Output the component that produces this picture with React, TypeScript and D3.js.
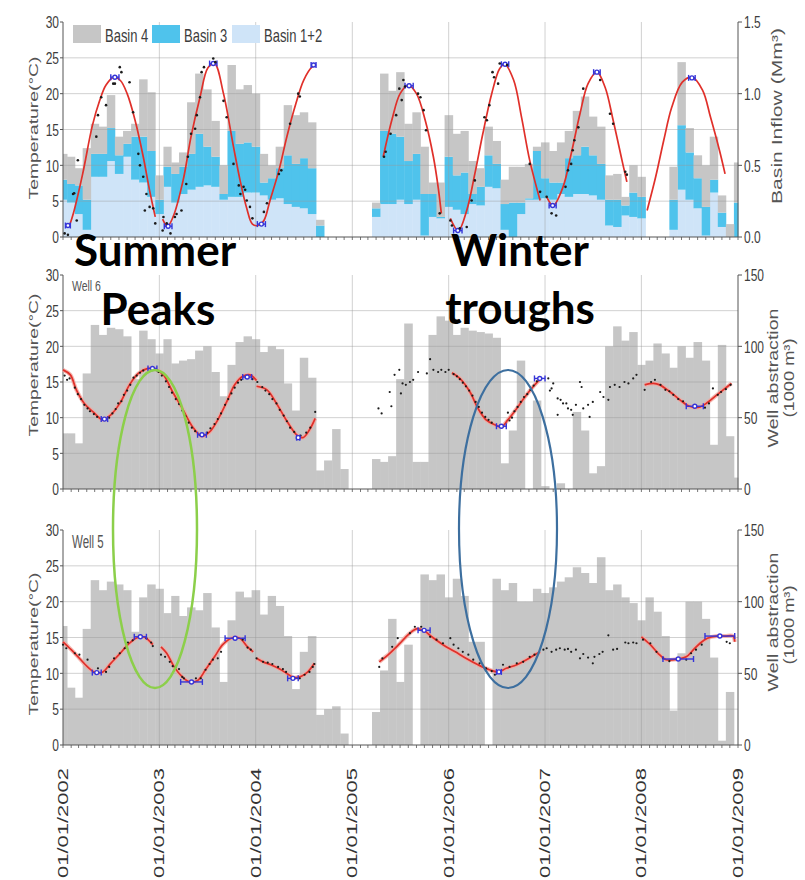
import React from "react";
import * as d3 from "d3";

// ---------- DATA ----------
const yearLabels = ["01/01/2002", "01/01/2003", "01/01/2004", "01/01/2005", "01/01/2006", "01/01/2007", "01/01/2008", "01/01/2009"];
const tempTicks = [0, 5, 10, 15, 20, 25, 30];
const inflowTicks = [0, 0.5, 1.0, 1.5];
const abstractionTicks = [0, 50, 100, 150];
const legendLabels = ["Basin 4", "Basin 3", "Basin 1+2"];
const wellNames = ["Well 6", "Well 5"];

// Monthly basin inflow (Mm3), Jan 2002 .. Jan 2009
const basin12 = [
  .26, .24, .16, .05, .42, .42, .53, .44, .56, .40, .38, .28,
  .16, .35, .24, .30, .33, .35, .36, .35, .26, .28, .28, .31,
  .31, .29, .26, .27, .23, .21, .20, .16, 0, 0, 0, 0,
  0, 0, 0, .14, .23, .23, .26, .23, .26, .01, .14, .13,
  .21, .19, .16, .23, .22, .35, .34, .05, 0, .16, .26, .26,
  .27, .26, .30, .28, .30, .30, .29, .26, .08, .07, .15, .14,
  .13, 0, 0, 0, .05, .33, .26, .20, .01, .31, .07, 0,
  0,
];
const basin3 = [
  .14, .13, .20, .21, .16, .16, .23, .13, .09, .30, .32, .32,
  .10, .14, .20, .19, .25, .37, .27, .21, .04, .46, .37, .35,
  .32, .09, .15, .21, .34, .30, .35, .32, .08, 0, 0, 0,
  0, 0, 0, .06, .51, .49, .44, .30, .32, .29, .16, .01,
  .35, .24, .29, .07, .13, .22, .17, .18, .24, .08, .01, .34,
  .14, .12, .08, .27, .27, .33, .28, .25, .18, .19, .07, .17,
  .15, 0, 0, 0, .21, .45, .33, .21, .20, .09, .10, 0,
  .24,
];
const basin4 = [
  .18, .19, .12, .36, .21, .19, .23, .13, .09, .09, .40, .41,
  .17, .14, .08, .10, .36, .42, .40, .25, .20, .46, .38, .40,
  .37, .20, .09, .15, .35, .34, .32, .32, .04, 0, 0, 0,
  0, 0, 0, .04, .40, .30, .45, .26, .29, .33, .08, .24,
  .29, .29, .29, .23, .13, .20, .16, .17, .25, .25, .24, .03,
  .25, .22, .28, .19, .31, .35, .27, .26, .17, .18, .06, .19,
  .14, 0, 0, 0, .23, .44, .17, .16, .29, .30, .12, .09,
  .28,
];

// Monthly well abstraction (1000 m3)
const well6Abstraction = [
  39, 39, 32, 81, 115, 108, 113, 112, 107, 77, 111, 105,
  95, 105, 88, 90, 91, 97, 100, 82, 65, 87, 103, 107,
  105, 96, 100, 98, 74, 55, 92, 78, 13, 20, 42, 14,
  0, 0, 0, 21, 19, 23, 77, 116, 19, 19, 108, 121,
  118, 108, 113, 111, 110, 109, 106, 18, 41, 90, 0, 62,
  2, 0, 4, 0, 54, 41, 11, 16, 100, 114, 104, 110,
  87, 90, 102, 95, 85, 100, 92, 103, 90, 31, 101, 37,
  8,
];
const well5Abstraction = [
  83, 40, 33, 81, 115, 108, 114, 112, 108, 79, 103, 112,
  109, 92, 104, 90, 96, 94, 106, 82, 44, 87, 107, 103,
  108, 91, 104, 97, 76, 39, 65, 76, 21, 25, 27, 8,
  0, 0, 0, 23, 52, 88, 44, 70, 0, 119, 115, 119,
  103, 116, 104, 72, 72, 0, 116, 108, 113, 100, 100, 109,
  106, 110, 114, 117, 124, 120, 113, 131, 108, 112, 103, 99,
  87, 103, 93, 76, 24, 64, 100, 100, 88, 61, 3, 37,
  0,
];

// Fitted temperature curves: [month index from Jan 2002, °C]
const basinFits: [number, number][][] = [
  [[0.8, 1.6], [1.3, 3.3], [2.5, 8.8], [3.7, 15.5], [4.6, 19], [5.4, 21.2], [6.4, 22.3], [7.2, 21.8], [8, 20], [9, 16.3], [10, 11.2], [10.8, 6.5], [11.5, 2.8]],
  [[12.4, 2.5], [13, 1.5], [13.75, 2.8], [15, 7.9], [16, 14], [17.1, 19.5], [18.1, 23.6], [18.9, 24.2], [20, 20], [21.25, 12.6], [22.1, 7.7], [22.9, 4], [23.6, 1.8], [24.3, 1.6], [25, 2.3], [25.8, 5.1], [26.9, 9.3], [27.9, 14], [29, 18.6], [30, 21.9], [31, 23.7], [31.4, 23.9]],
  [[39.9, 11.2], [41, 16.5], [42, 20], [43, 21.2], [44, 20], [45.1, 16.3], [46.1, 11.2], [46.7, 7], [47.1, 3.3]],
  [[48.2, 2.6], [49.2, 0.9], [50.3, 3.7], [51.3, 8.8], [52.3, 14.4], [53.4, 20], [54.4, 23.5], [55, 24.1], [56.1, 21.9], [57.1, 16.7], [58.1, 10.7], [59.4, 5.1]],
  [[60.2, 5.6], [61, 4.4], [62.3, 7], [63.3, 11.6], [64.4, 17.2], [65.4, 21.4], [66.5, 23], [67.5, 20.9], [68.5, 16.3], [69.6, 10.7], [70.2, 7.7]],
  [[72.7, 3.7], [73.8, 8.4], [74.8, 13.5], [75.8, 18.1], [77.1, 21.6], [78.3, 22.3], [79.6, 20.5], [80.6, 16.7], [81.7, 12.1], [82.4, 8.8]],
];
const well6Fits: [number, number][][] = [
  [[0, 16.7], [0.9, 16], [1.7, 13.9], [2.7, 12], [3.8, 10.8], [5, 9.7], [6, 10.4], [7.1, 12], [8.3, 14.6], [9.4, 16.2], [10.6, 16.9], [11.5, 16.8], [12.5, 16], [13.7, 13.6], [15, 11.1], [16.2, 8.7], [17.3, 7.4], [18.3, 8], [19.3, 9.7], [20.4, 12.2], [21.4, 14.6], [22.4, 15.8], [23.3, 16], [24.1, 15.2]],
  [[24.1, 14.4], [25.4, 13.9], [26.6, 12], [27.8, 9.7], [29.1, 7.6], [29.9, 7.2], [30.7, 8.3], [31.4, 9.9]],
  [[48.4, 16.3], [49.4, 15.5], [50.7, 13.6], [51.7, 11.3], [52.7, 9.7], [53.8, 9.0], [54.6, 8.7], [55.4, 9.7], [56.5, 11.3], [57.5, 12.9], [58.5, 14.3], [59.3, 15.3]],
  [[72.4, 14.6], [73.5, 14.8], [74.3, 14.6], [75.6, 13.6], [76.8, 12.5], [78, 11.6], [79.3, 11.5], [80.3, 12.2], [81.4, 13.2], [82.4, 14.1], [83.2, 14.8]],
];
const well5Fits: [number, number][][] = [
  [[0, 14.4], [1, 13.3], [2.1, 12.1], [3.1, 10.9], [4.1, 10.1], [5, 10.2], [6, 11.4], [7, 12.6], [8.1, 14], [9.1, 14.9], [10, 15.1], [10.6, 14.7], [11.2, 14]],
  [[12.2, 13.7], [12.9, 12.8], [13.9, 10.9], [14.9, 9.5], [15.8, 8.8], [16.8, 9], [17.8, 10.5], [18.9, 12.3], [19.9, 14], [21, 14.9], [22, 14.9], [23, 13.7], [23.7, 13]],
  [[24.1, 12.1], [24.9, 11.6], [25.9, 11.2], [27, 10.6], [28, 9.9], [28.8, 9.4], [29.7, 9.6], [30.5, 10.2], [31.3, 11.4]],
  [[39.4, 11.6], [40.7, 12.8], [41.9, 14.1], [43, 15.4], [44, 16.2], [44.9, 16], [45.9, 15.1], [47.3, 14], [48.8, 13], [50.2, 12.1], [51.7, 11.2], [53.1, 10.5], [54.2, 10.2], [55.2, 10.7], [56.5, 11.2], [57.7, 11.9], [58.9, 12.7], [59.4, 13]],
  [[72, 15.1], [73.1, 14], [74.1, 12.8], [75.1, 11.9], [76.6, 12], [77.6, 12.3], [78.5, 13.3], [79.3, 14.2], [80.2, 14.9], [81.4, 15.2], [82.4, 15.2], [83.4, 15.2], [83.6, 14.4]],
];

// Peak / trough markers: [start month, end month, °C]
const basinMarkers: [number, number, number][] = [[0.3, 0.9, 1.6], [6.0, 7.0, 22.3], [12.6, 13.6, 1.5], [18.3, 19.2, 24.2], [24.2, 25.2, 1.8], [30.9, 31.5, 24], [42.6, 43.6, 21.1], [48.6, 49.7, 0.9], [54.6, 55.5, 24.1], [60.5, 61.4, 4.4], [66.1, 66.9, 23], [77.9, 78.7, 22.2]];
const well6Markers: [number, number, number][] = [[4.8, 5.6, 9.8], [10.6, 11.7, 16.9], [16.8, 17.9, 7.6], [22.4, 23.5, 15.7], [29.1, 29.5, 7.2], [54, 55.2, 8.8], [58.7, 60, 15.5], [77.6, 79.7, 11.6]];
const well5Markers: [number, number, number][] = [[3.7, 4.8, 10.1], [8.9, 10.4, 15.1], [14.7, 17.4, 8.8], [20.2, 22.7, 14.9], [28, 29.3, 9.3], [44.2, 45.7, 16], [54, 54.6, 10.2], [74.7, 78.5, 12], [79.9, 83.6, 15.2]];

// Observed temperatures: [month, °C]
const basinObs: [number, number][] = [[0.2, 0.5], [0.6, 0.3], [1.25, 6], [1.4, 6.1], [1.75, 2.3], [1.9, 10.7], [4.2, 14], [4.4, 17], [4.8, 19.5], [5.4, 18.4], [6.3, 21.4], [6.5, 21.4], [7.1, 23.7], [7.3, 23], [8.3, 21.6], [8.75, 17.4], [9.4, 11.6], [9.6, 10], [10, 8.4], [10.2, 3.7], [10.4, 6], [10.8, 4.2], [11.25, 4], [11.5, 1.9],
  [12.4, 0.9], [12.5, 2.8], [12.9, 1.9], [13.4, 0.5], [14, 2.8], [14.2, 3.2], [14.8, 3.7], [15.4, 7.4], [15.6, 11.2], [16, 14.4], [16.5, 15.1], [16.7, 17], [17.1, 19.5], [17.3, 23], [17.6, 23.7], [18.75, 24.9], [19, 24.4], [20, 19], [20.4, 16.7], [21.25, 10.2], [21.9, 7.2], [22.1, 6], [22.5, 7], [22.7, 6.6], [22.9, 5.1], [23.3, 4.2], [23.6, 2.6],
  [25, 3.5], [25.4, 4.7], [26.9, 8.8], [27.2, 9.3], [28.3, 15.8], [29.3, 20], [29.5, 19.6],
  [40, 11.2], [40.2, 11.9], [40.8, 14.4], [41.5, 17], [41.9, 20.7], [42.2, 19.1], [42.4, 21.9], [42.6, 21], [44.2, 20], [44.5, 19.5], [44.9, 17.7], [45.2, 14.9], [46.9, 3.3], [48.2, 2.3], [48.4, 1.6], [49.4, 1.2], [50.3, 1.4], [50.9, 5.1], [51.3, 7.9], [52.5, 16.7], [52.8, 16.3], [53.1, 18.4], [53.5, 23], [53.7, 22.3], [54.2, 21.4], [54.4, 24.2], [55.3, 24], [58.1, 10.2], [59.4, 6.3], [60.2, 5.6], [60.8, 3.3], [61.4, 3], [62.6, 7], [62.9, 9.3], [63.3, 10.2], [63.5, 12.1], [63.7, 13.5], [64.2, 15.3], [64.8, 20.7], [66.9, 21.9], [68.1, 17.2], [68.5, 15.8], [70, 9.1], [70.2, 8.7]];
const well6Obs: [number, number][] = [[0.2, 15.9], [0.5, 15.3], [0.8, 15.5], [1.5, 14.2], [1.9, 13.3], [2.3, 12.6], [2.7, 11.8], [3.1, 11.3], [3.4, 10.9], [3.9, 10.5], [4.3, 10.1], [5.3, 9.7], [5.8, 10.0], [6.2, 10.6], [6.6, 11.2], [6.9, 12.0], [7.3, 12.3], [7.6, 13.2], [8.0, 13.8], [8.4, 14.6], [8.8, 15.6], [9.2, 15.9], [9.6, 16.3], [10.0, 16.6], [11.9, 16.4], [12.3, 15.9], [12.8, 15.1], [13.2, 14.3], [13.6, 13.5], [14.1, 12.6], [14.5, 11.9], [14.9, 11.0], [15.3, 10.2], [15.7, 9.3], [16.1, 8.6], [16.5, 8.1], [17.1, 7.6], [18.0, 7.9], [18.4, 8.5], [18.9, 9.1], [19.3, 9.8], [19.7, 10.6], [20.2, 11.8], [20.6, 12.6], [21.0, 13.4], [21.4, 14.2], [21.8, 14.9], [22.2, 15.3], [23.6, 15.4], [24.2, 15.0], [24.8, 14.3], [25.2, 13.8], [25.7, 13.3], [26.1, 12.6], [26.6, 12.0], [27.0, 11.1], [27.5, 10.3], [27.9, 9.5], [28.3, 8.6], [28.8, 8.0], [29.6, 7.5], [30.3, 7.9], [30.8, 8.6], [31.4, 10.8],
  [39.3, 11.3], [39.7, 10.6], [40.7, 13.6], [40.9, 11.6], [41.3, 16], [41.9, 16.7], [42.1, 13.4], [42.3, 14.8], [42.7, 14.6], [43.2, 15], [43.6, 15.3], [44.2, 16.4], [45.3, 16.2], [45.7, 18.2], [46.1, 16.7], [46.7, 16.4], [47.1, 16.7], [47.6, 16.4], [48.0, 16.7],
  [48.6, 16.1], [49.0, 15.8], [49.4, 15.4], [49.8, 14.9], [50.2, 14.4], [50.6, 13.8], [51.0, 13.1], [51.4, 12.2], [51.8, 11.5], [52.2, 10.7], [52.6, 10.1], [53.0, 9.7], [53.4, 9.3], [55.4, 10.7], [55.6, 9.6], [55.9, 10.0], [56.2, 10.9], [56.6, 11.5], [57.0, 12.2], [57.4, 12.9], [57.8, 13.3], [58.2, 13.9], [58.6, 14.5], [59.0, 15.1],
  [60.4, 15.5], [60.6, 13.8], [60.8, 14.1], [61.0, 14.8], [61.6, 12.7], [61.6, 10.4], [62.0, 12.5], [62.3, 12.0], [62.7, 12.0], [62.9, 11.3], [63.3, 11.1], [63.5, 10.4], [63.9, 11.8], [64.4, 15.0], [64.6, 14.3], [64.8, 11.3], [65.4, 11.8], [65.6, 10.1], [66.0, 12.2], [66.9, 13.6], [67.3, 12.9], [67.9, 12.5], [68.1, 14.3], [68.7, 14.6], [69.3, 14.3], [69.9, 15.0], [70.4, 14.8], [71.0, 15.5], [71.4, 16.0],
  [72.4, 13.9], [73.2, 15.0], [73.7, 15.3], [74.4, 14.6], [75.0, 13.9], [75.5, 13.7], [76.0, 13.2], [76.6, 12.6], [77.2, 12.3], [79.9, 11.4], [80.4, 12.0], [80.9, 14.1], [81.5, 13.2], [81.9, 13.6], [82.5, 14.0], [83.1, 14.6]];
const well5Obs: [number, number][] = [[0, 14], [0.4, 13.5], [1.5, 12.8], [2.1, 12.6], [3.1, 11.9], [4.4, 10.7], [5.4, 10.2], [5.8, 10.9], [6.4, 12.1], [7.1, 12.8], [7.7, 13.5], [8.1, 14.3], [8.7, 14.6], [9.5, 15.2], [10.4, 14.9], [11, 14.3], [11.2, 13.8],
  [12.2, 12.6], [12.7, 12.3], [13.3, 11.6], [13.7, 11], [14.1, 10.9], [14.5, 10.6], [14.9, 9.5], [15.1, 9.3], [16.6, 9.3], [17.2, 9.3], [17.8, 10.5], [18.3, 11.3], [18.7, 11.9], [19.3, 12.1], [19.7, 13], [22.4, 14.7], [23, 13.6], [23.4, 13.3],
  [24.1, 12.1], [24.9, 11.6], [25.5, 11.5], [26.1, 11.3], [26.8, 10.9], [27.4, 10.6], [27.8, 10.2], [29.5, 9.3], [30.1, 9.8], [30.7, 10.2], [31.1, 10.9], [31.3, 11.3],
  [39.4, 10.9], [39.8, 12.1], [41, 13.7], [41.7, 14.9], [43.2, 15.6], [43.8, 16.5], [44.6, 16.5], [45.7, 15.1], [46.5, 14.7], [47.3, 14.2], [48.2, 14.9], [48.6, 14], [49.2, 13.5], [49.8, 13], [50.5, 12.6], [51.1, 11.9], [51.9, 11.4], [52.7, 10.7], [53.4, 10.3], [53.8, 9.8], [54.8, 11.2], [55.6, 10.9], [56.5, 11.4], [57.3, 11.6], [58.1, 12.3], [58.7, 12.6],
  [59.8, 13.3], [60.2, 13.5], [60.8, 13.0], [61.4, 13.3], [61.9, 13.5], [62.5, 13.3], [62.9, 13.4], [63.3, 13.0], [63.9, 13.3], [64.4, 12.1], [64.8, 12.7], [65.4, 12.2], [66, 11.4], [66.2, 12.3], [66.8, 12.7], [67.2, 13.0], [67.9, 15.3], [68.5, 13.3], [69, 13.4], [70, 14.3], [70.4, 14.2], [71, 14.3], [71.4, 14.2],
  [72.2, 14.7], [73.1, 14.2], [73.9, 13], [74.7, 12.1], [75.5, 11.7], [77.6, 11.9], [78.2, 12.8], [78.8, 13.3], [79.5, 14], [82.6, 14.4], [83, 14.2]];

// ---------- LAYOUT ----------
const W = 805, H = 880;
const X0 = 63, X1 = 738;
const panels = [
  { top: 22, bottom: 237 },
  { top: 275, bottom: 489 },
  { top: 530, bottom: 745 },
];
const FONT = "'Liberation Sans', Arial, sans-serif";
const TXT = "#3d3d3d";

const x = d3.scaleTime().domain([new Date(2002, 0, 1), new Date(2009, 0, 1)]).range([X0, X1]);
function monthDate(m: number): Date {
  const i = Math.floor(m);
  const a = new Date(2002, i, 1).getTime();
  const b = new Date(2002, i + 1, 1).getTime();
  return new Date(a + (m - i) * (b - a));
}
const xm = (m: number) => x(monthDate(m));
const clampX = (v: number) => Math.max(X0, Math.min(X1, v));

function SText({ x: tx, y: ty, sy = 1.45, size = 12, anchor = "start", fill = TXT, children }: any) {
  return (
    <text transform={`translate(${tx},${ty}) scale(1,${sy})`} fontSize={size} textAnchor={anchor} fill={fill} fontFamily={FONT}>
      {children}
    </text>
  );
}
function VText({ x: tx, y: ty, len, size = 13, anchor = "middle", fill = "#555", children }: any) {
  return (
    <text transform={`translate(${tx},${ty}) rotate(-90)`} fontSize={size} textAnchor={anchor} fill={fill} fontFamily={FONT} textLength={len} lengthAdjust="spacingAndGlyphs">
      {children}
    </text>
  );
}

function Frame({ p, rightTicks, rightLabel }: any) {
  const yL = d3.scaleLinear().domain([0, 30]).range([p.bottom, p.top]);
  const months = x.ticks(d3.timeMonth.every(1) as any);
  const yearsTicks = x.ticks(d3.timeYear.every(1) as any).filter((d) => d > x.domain()[0] && d < x.domain()[1]);
  return (
    <g>
      {tempTicks.filter((t) => t > 0 && t < 30).map((t) => (
        <line key={"h" + t} x1={X0} x2={X1} y1={yL(t)} y2={yL(t)} stroke="#9a9a9a" strokeOpacity={0.45} strokeWidth={1} />
      ))}
      {yearsTicks.map((d, i) => (
        <line key={"v" + i} x1={x(d)} x2={x(d)} y1={p.top} y2={p.bottom} stroke="#9a9a9a" strokeOpacity={0.45} strokeWidth={1} />
      ))}
      <line x1={X0} x2={X0} y1={p.top} y2={p.bottom} stroke="#555" />
      <line x1={X1} x2={X1} y1={p.top} y2={p.bottom} stroke="#555" />
      <line x1={X0} x2={X1} y1={p.bottom} y2={p.bottom} stroke="#555" />
      {months.map((d, i) => (
        <line key={"m" + i} x1={x(d)} x2={x(d)} y1={p.bottom} y2={p.bottom + 3} stroke="#555" strokeWidth={0.8} />
      ))}
      {tempTicks.map((t) => (
        <g key={"l" + t}>
          <line x1={X0 - 3} x2={X0} y1={yL(t)} y2={yL(t)} stroke="#555" />
          <SText x={59} y={yL(t) + 6.2} anchor="end">{String(t)}</SText>
        </g>
      ))}
      {rightTicks.map((t: any, i: number) => (
        <g key={"r" + i}>
          <line x1={X1} x2={X1 + 4} y1={t.y} y2={t.y} stroke="#555" />
          <SText x={744} y={t.y + 6.2}>{t.label}</SText>
        </g>
      ))}
      {rightLabel}
    </g>
  );
}

function Curves({ fits, yL, halo }: any) {
  const line = d3.line<[number, number]>().x((d) => xm(d[0])).y((d) => yL(d[1])).curve(d3.curveCatmullRom.alpha(0.5));
  return (
    <g>
      {halo && fits.map((f: any, i: number) => (
        <path key={"h" + i} d={line(f) || ""} fill="none" stroke="#f3a7a0" strokeWidth={4} strokeOpacity={0.8} />
      ))}
      {fits.map((f: any, i: number) => (
        <path key={i} d={line(f) || ""} fill="none" stroke="#e0302a" strokeWidth={1.7} />
      ))}
    </g>
  );
}
function Dots({ obs, yL, r = 1.2 }: any) {
  return (
    <g>
      {obs.map((d: [number, number], i: number) => (
        <circle key={i} cx={xm(d[0])} cy={yL(d[1])} r={r} fill="#1b1b1b" />
      ))}
    </g>
  );
}
function Markers({ marks, yL }: any) {
  return (
    <g stroke="#3535d8" strokeWidth={1.4}>
      {marks.map((m: [number, number, number], i: number) => {
        const a = xm(m[0]), b = xm(m[1]), y = yL(m[2]);
        return (
          <g key={i}>
            <line x1={a} x2={b} y1={y} y2={y} />
            <line x1={a} x2={a} y1={y - 3} y2={y + 3} />
            <line x1={b} x2={b} y1={y - 3} y2={y + 3} />
            <circle cx={(a + b) / 2} cy={y} r={2} fill="#ffffff" />
          </g>
        );
      })}
    </g>
  );
}

function BarsSimple({ values, yR }: any) {
  return (
    <g>
      {values.map((v: number, i: number) => {
        if (!v) return null;
        const a = clampX(xm(i - 0.5)), b = clampX(xm(i + 0.5));
        return <rect key={i} x={a} width={b - a + 0.4} y={yR(v)} height={yR(0) - yR(v)} fill="#c6c6c6" />;
      })}
    </g>
  );
}

export default function App() {
  const p0 = panels[0], p1 = panels[1], p2 = panels[2];
  const yT0 = d3.scaleLinear().domain([0, 30]).range([p0.bottom, p0.top]);
  const yT1 = d3.scaleLinear().domain([0, 30]).range([p1.bottom, p1.top]);
  const yT2 = d3.scaleLinear().domain([0, 30]).range([p2.bottom, p2.top]);
  const yIn = d3.scaleLinear().domain([0, 1.5]).range([p0.bottom, p0.top]);
  const yA1 = d3.scaleLinear().domain([0, 150]).range([p1.bottom, p1.top]);
  const yA2 = d3.scaleLinear().domain([0, 150]).range([p2.bottom, p2.top]);

  const rows = basin12.map((v, i) => ({ i, b12: v, b3: basin3[i], b4: basin4[i] }));
  const stacked = d3.stack<any>().keys(["b12", "b3", "b4"])(rows);
  const stackColors: Record<string, string> = { b12: "#cfe4f8", b3: "#4fc3ec", b4: "#c6c6c6" };
  const legendColors = ["#c6c6c6", "#4fc3ec", "#cfe4f8"];
  const legendX = [73, 152, 232];

  return (
    <div>
      <style>{`body{margin:0;background:#fff}`}</style>
      <svg width={W} height={H} viewBox={`0 0 ${W} ${H}`} style={{ display: "block", background: "#fff" }}>
        {/* Top panel: basin inflow stacked bars */}
        <g>
          {stacked.map((s) => (
            <g key={s.key} fill={stackColors[s.key]}>
              {s.map((d, i) => {
                if (d[1] - d[0] <= 0) return null;
                const a = clampX(xm(i - 0.5)), b = clampX(xm(i + 0.5));
                return <rect key={i} x={a} width={b - a + 0.4} y={yIn(d[1])} height={yIn(d[0]) - yIn(d[1])} />;
              })}
            </g>
          ))}
        </g>
        <Frame
          p={p0}
          rightTicks={inflowTicks.map((t) => ({ y: yIn(t), label: t.toFixed(1) }))}
          rightLabel={<VText x={782} y={116} len={176} size={14}>Basin Inflow (Mm³)</VText>}
        />
        {legendLabels.map((l, i) => (
          <g key={l}>
            <rect x={legendX[i]} y={25} width={28} height={18} fill={legendColors[i]} />
            <SText x={legendX[i] + 32} y={42} size={13} sy={1.4}>{l}</SText>
          </g>
        ))}
        <Curves fits={basinFits} yL={yT0} />
        <Markers marks={basinMarkers} yL={yT0} />
        <Dots obs={basinObs} yL={yT0} r={1.3} />
        <VText x={38} y={128} len={143}>Temperature(°C)</VText>

        {/* Middle panel: Well 6 */}
        <BarsSimple values={well6Abstraction} yR={yA1} />
        <Frame
          p={p1}
          rightTicks={abstractionTicks.map((t) => ({ y: yA1(t), label: String(t) }))}
          rightLabel={
            <g>
              <VText x={778} y={378} len={139} size={14}>Well abstraction</VText>
              <VText x={794} y={378} len={79} size={14}>(1000 m³)</VText>
            </g>
          }
        />
        <SText x={72} y={291} size={10.5} sy={1.42} fill="#555">{wellNames[0]}</SText>
        <Curves fits={well6Fits} yL={yT1} halo />
        <Dots obs={well6Obs} yL={yT1} r={1.1} />
        <Markers marks={well6Markers} yL={yT1} />
        <VText x={38} y={365} len={143}>Temperature(°C)</VText>

        {/* Bottom panel: Well 5 */}
        <BarsSimple values={well5Abstraction} yR={yA2} />
        <Frame
          p={p2}
          rightTicks={abstractionTicks.map((t) => ({ y: yA2(t), label: String(t) }))}
          rightLabel={
            <g>
              <VText x={778} y={622} len={139} size={14}>Well abstraction</VText>
              <VText x={794} y={625} len={79} size={14}>(1000 m³)</VText>
            </g>
          }
        />
        <SText x={72} y={548} size={11.5} sy={1.55} fill="#555">{wellNames[1]}</SText>
        <Curves fits={well5Fits} yL={yT2} halo />
        <Dots obs={well5Obs} yL={yT2} r={1.1} />
        <Markers marks={well5Markers} yL={yT2} />
        <VText x={38} y={644} len={143}>Temperature(°C)</VText>

        {/* Date labels */}
        {yearLabels.map((l, i) => (
          <VText key={l} x={x(new Date(2002 + i, 0, 1)) + 5} y={768} len={110} size={15} anchor="end" fill="#333">{l}</VText>
        ))}

        {/* Annotations */}
        <g fontFamily="Lato, 'Open Sans', sans-serif" fontWeight={700} fontSize={44} fill="#000" textAnchor="middle">
          <text x={155} y={266}>Summer</text>
          <text x={158} y={325}>Peaks</text>
          <text x={520} y={266}>Winter</text>
          <text x={520} y={324}>troughs</text>
        </g>
        <ellipse cx={155} cy={529} rx={42} ry={159} fill="none" stroke="#8ccf4a" strokeWidth={2.5} />
        <ellipse cx={508} cy={529} rx={49} ry={159} fill="none" stroke="#3d6f9f" strokeWidth={2.2} />
      </svg>
    </div>
  );
}
